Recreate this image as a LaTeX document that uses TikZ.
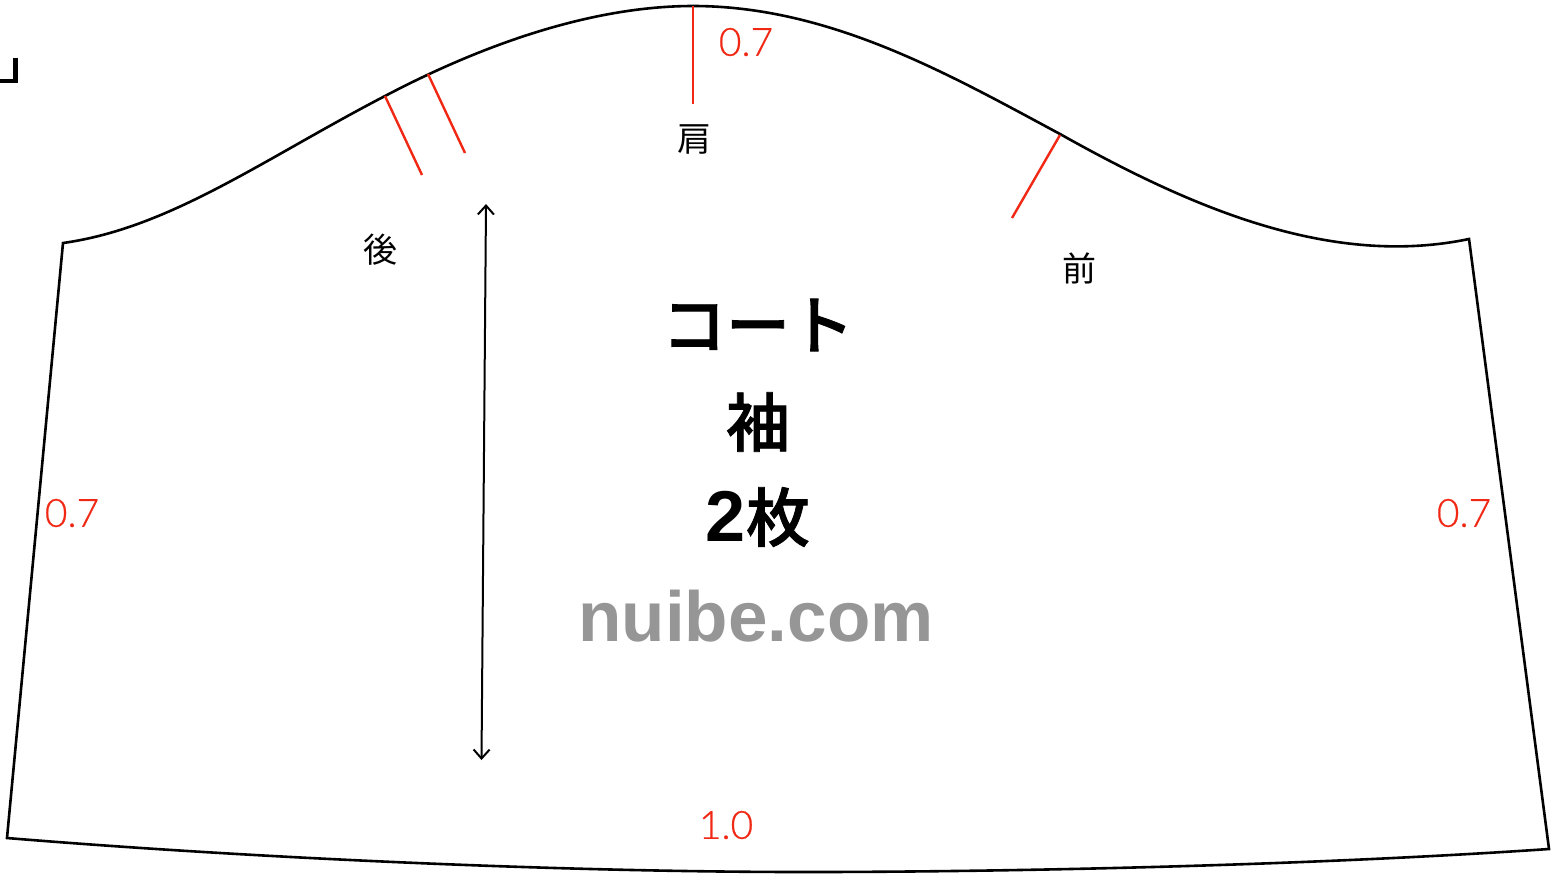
\documentclass[tikz,border=0pt]{standalone}
\usepackage{fontspec}
\usetikzlibrary{arrows.meta}
\setmainfont{Liberation Sans}
\newfontfamily\jp{Noto Sans CJK JP}
\newfontfamily\jpb{Noto Sans CJK JP Medium}[FakeBold=1.2]
\newfontfamily\lat{Liberation Sans}
\newfontfamily\latl{Lato Light}[FakeBold=0.4]
\definecolor{redline}{RGB}{240,40,20}
\definecolor{wm}{RGB}{150,150,150}
\tikzset{
  outline/.style={line width=1.3pt,black,line join=miter},
  redmark/.style={line width=1.2pt,redline},
  measure/.style={line width=1pt,black,{Straight Barb[length=4.5pt,width=8pt,line width=1pt]}-{Straight Barb[length=4.5pt,width=8pt,line width=1pt]}},
  num/.style={text=redline,inner sep=0pt,font=\latl\fontsize{19.5}{19.5}\selectfont},
  small/.style={inner sep=0pt,font=\jp\fontsize{17}{17}\selectfont},
  big/.style={inner sep=0pt,font=\jpb\fontsize{32}{32}\selectfont}
}
\begin{document}
\begin{tikzpicture}[x=0.5pt,y=-0.5pt]
\useasboundingbox (0,0) rectangle (1551,874);
% corner mark
\draw[line width=2.4pt] (0,81) -- (15.5,81) -- (15.5,58);
% outline
\coordinate (tl) at (63,243);
\coordinate (tr) at (1469,239);
\coordinate (bl) at (7,838);
\coordinate (br) at (1549,849);
\draw[outline] (tl) .. controls (170,228) and (262,160) .. (385,96)
  .. controls (480,46) and (590,6) .. (693,6)
  .. controls (830,6) and (950,75) .. (1060,134)
  .. controls (1190,207) and (1330,268) .. (tr)
  -- (br) .. controls (1300,866) and (1000,872) .. (805,872)
  .. controls (560,872) and (250,858) .. (bl) -- cycle;
% red marks
\coordinate (a1) at (385,96); \coordinate (a2) at (422,175);
\coordinate (b1) at (428,74); \coordinate (b2) at (465,153);
\coordinate (c1) at (693,6);  \coordinate (c2) at (693,104);
\coordinate (d1) at (1060,135); \coordinate (d2) at (1012,218);
\draw[redmark] (a1) -- (a2);
\draw[redmark] (b1) -- (b2);
\draw[redmark] (c1) -- (c2);
\draw[redmark] (d1) -- (d2);
% grain line
\coordinate (g1) at (486,204); \coordinate (g2) at (481.5,760);
\draw[measure] (g1) -- (g2);
% numbers
\node[num] (n1) at (746,42) {0.7};
\node[num] (n2) at (72,513) {0.7};
\node[num] (n3) at (1464,513) {0.7};
\node[num] (n4) at (726,825) {1.0};
% labels
\node[small] (k) at (694,139) {肩};
\node[small] (u) at (380,250) {後};
\node[small] (m) at (1079,268) {前};
\node[big] (t1) at (758,325) {コート};
\node[big] (t2) at (758,422) {袖};
\node[big] (t3) at (758,517) {{\lat\bfseries\fontsize{36}{36}\selectfont 2}枚};
\node[inner sep=0pt,text=wm,font=\lat\bfseries\fontsize{35.5}{35.5}\selectfont] (w) at (756,616) {nuibe.com};
\end{tikzpicture}
\end{document}
